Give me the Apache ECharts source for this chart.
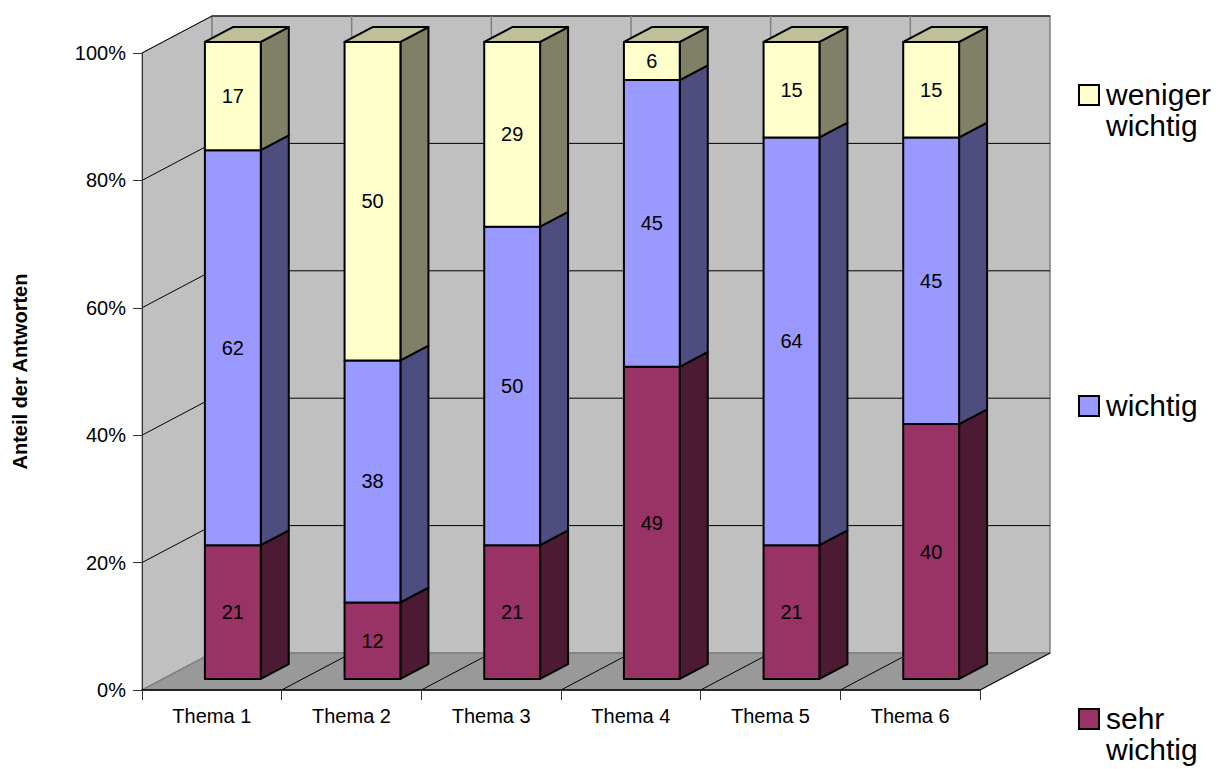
<!DOCTYPE html>
<html><head><meta charset="utf-8">
<script src="https://cdn.jsdelivr.net/npm/echarts@6/dist/echarts.min.js"></script>
<style>html,body{margin:0;padding:0;background:#fff}#c{width:1220px;height:769px}</style>
</head><body><div id="c"></div>
<script>
// ---- data ----
const categories = ['Thema 1', 'Thema 2', 'Thema 3', 'Thema 4', 'Thema 5', 'Thema 6'];
const sehrWichtig = [21, 12, 21, 49, 21, 40];
const wichtig = [62, 38, 50, 45, 64, 45];
const wenigerWichtig = [17, 50, 29, 6, 15, 15];
const seriesNames = ['sehr wichtig', 'wichtig', 'weniger wichtig'];
const yTicks = [0, 20, 40, 60, 80, 100];
const yAxisTitle = 'Anteil der Antworten';

// ---- style ----
const FONT = '"Liberation Sans", Arial, sans-serif';
const DX = 70, DY = -37;          // depth of the 3D box (px)
const BAR_W = 0.4, DEPTH0 = 0.3, DEPTH1 = 0.7;
const colors = [
  { front: '#993366', side: '#4d1a33', top: '#732650' },
  { front: '#9999ff', side: '#4d4d80', top: '#7373bf' },
  { front: '#ffffcc', side: '#808066', top: '#bfbf99' }
];
const stacks = [sehrWichtig, wichtig, wenigerWichtig];

function buildData(k) {
  return categories.map((c, i) => {
    let base = 0;
    for (let j = 0; j < k; j++) base += stacks[j][i];
    return [i, base, base + stacks[k][i]];
  });
}

function wallsRender(params, api) {
  const cs = params.coordSys;
  const x0 = cs.x, x1 = cs.x + cs.width;
  const yBot = api.coord([0, 0])[1], yTop = api.coord([0, 100])[1];
  const band = api.size([1, 0])[0];
  const ch = [];
  // side wall
  ch.push({ type: 'polygon', shape: { points: [[x0, yTop], [x0 + DX, yTop + DY], [x0 + DX, yBot + DY], [x0, yBot]] },
    style: { fill: '#c0c0c0', stroke: '#808080', lineWidth: 1 } });
  // back wall
  ch.push({ type: 'rect', shape: { x: x0 + DX, y: yTop + DY, width: x1 - x0, height: yBot - yTop },
    style: { fill: '#c0c0c0', stroke: '#808080', lineWidth: 1.5 } });
  // floor
  ch.push({ type: 'polygon', shape: { points: [[x0, yBot], [x1, yBot], [x1 + DX, yBot + DY], [x0 + DX, yBot + DY]] },
    style: { fill: '#999999', stroke: '#808080', lineWidth: 1.5 } });
  // floor right edge
  ch.push({ type: 'line', shape: { x1: x1, y1: yBot, x2: x1 + DX, y2: yBot + DY }, style: { stroke: '#000', lineWidth: 1 } });
  // horizontal gridlines
  yTicks.forEach(v => {
    if (v === 0) return;
    const y = api.coord([0, v])[1];
    ch.push({ type: 'polyline', shape: { points: [[x0, y], [x0 + DX, y + DY], [x1 + DX, y + DY]] },
      style: { stroke: '#000', lineWidth: 1, fill: null } });
  });
  // category dividers
  for (let i = 1; i < categories.length; i++) {
    const xb = x0 + band * i;
    ch.push({ type: 'line', shape: { x1: xb, y1: yBot, x2: xb + DX, y2: yBot + DY }, style: { stroke: '#000', lineWidth: 1 } });
    ch.push({ type: 'line', shape: { x1: xb + DX, y1: yBot + DY, x2: xb + DX, y2: yTop + DY }, style: { stroke: '#808080', lineWidth: 1.5 } });
  }
  return { type: 'group', children: ch };
}

function barRender(k) {
  return function (params, api) {
    const i = api.value(0), lo = api.value(1), hi = api.value(2);
    const pLo = api.coord([i, lo]), pHi = api.coord([i, hi]);
    const band = api.size([1, 0])[0];
    const w = band * BAR_W;
    const ox = DX * DEPTH0, oy = DY * DEPTH0;
    const bx = DX * (DEPTH1 - DEPTH0), by = DY * (DEPTH1 - DEPTH0);
    const xl = pLo[0] - w / 2 + ox, xr = pLo[0] + w / 2 + ox;
    const yt = pHi[1] + oy, yb = pLo[1] + oy;
    const c = colors[k];
    const st = { stroke: '#000', lineWidth: 2, lineJoin: 'round' };
    const ch = [
      { type: 'polygon', shape: { points: [[xr, yt], [xr + bx, yt + by], [xr + bx, yb + by], [xr, yb]] }, style: Object.assign({ fill: c.side }, st) },
      { type: 'rect', shape: { x: xl, y: yt, width: xr - xl, height: yb - yt }, style: Object.assign({ fill: c.front }, st) }
    ];
    if (k === stacks.length - 1) {
      ch.push({ type: 'polygon', shape: { points: [[xl, yt], [xl + bx, yt + by], [xr + bx, yt + by], [xr, yt]] }, style: Object.assign({ fill: c.top }, st) });
    }
    ch.push({ type: 'text', x: (xl + xr) / 2, y: (yt + yb) / 2,
      style: { text: String(hi - lo), font: '20px ' + FONT, fill: '#000', align: 'center', verticalAlign: 'middle' } });
    return { type: 'group', children: ch };
  };
}

// legend (graphic)
const legendTops = [[84, 79], [395, 390], [708, 703]]; // icon top, text top
const legendOrder = [2, 1, 0];
const legendGraphics = [];
legendOrder.forEach((k, idx) => {
  const [iy, ty] = legendTops[idx];
  legendGraphics.push({ type: 'rect', left: 1078, top: iy, shape: { width: 20, height: 20 },
    style: { fill: colors[k].front, stroke: '#000', lineWidth: 2 } });
  legendGraphics.push({ type: 'text', left: 1106, top: ty,
    style: { text: seriesNames[k].replace(' ', '\n'), font: '30px ' + FONT, fill: '#000', lineHeight: 31 } });
});

const chart = echarts.init(document.getElementById('c'), null, { renderer: 'svg' });
chart.setOption({
  backgroundColor: '#ffffff',
  animation: false,
  grid: { left: 142, right: 240, top: 53, bottom: 79, containLabel: false, outerBoundsMode: 'none' },
  xAxis: {
    type: 'category', data: categories, boundaryGap: true, z: 5,
    axisLine: { show: true, lineStyle: { color: '#000', width: 1.5 } },
    axisTick: { show: true, length: 10, interval: 0, lineStyle: { color: '#333' } },
    axisLabel: { fontSize: 20, fontFamily: FONT, color: '#000', margin: 16, interval: 0 },
    splitLine: { show: false }
  },
  yAxis: {
    type: 'value', min: 0, max: 100, interval: 20, z: 5,
    name: yAxisTitle, nameLocation: 'middle', nameRotate: 90, nameGap: 112,
    nameTextStyle: { fontSize: 20, fontWeight: 'bold', fontFamily: FONT, color: '#000' },
    axisLine: { show: true, lineStyle: { color: '#333', width: 1 } },
    axisTick: { show: true, length: 9, lineStyle: { color: '#333' } },
    axisLabel: { formatter: '{value}%', fontSize: 20, fontFamily: FONT, color: '#000', margin: 16 },
    splitLine: { show: false }
  },
  graphic: legendGraphics,
  series: [
    { type: 'custom', name: 'walls', z: 1, silent: true, clip: false, renderItem: wallsRender, data: [[0, 0, 0]] }
  ].concat(seriesNames.map((n, k) => ({
    type: 'custom', name: n, z: 2 + k, clip: false, renderItem: barRender(k),
    encode: { x: 0, y: [1, 2] }, data: buildData(k)
  })))
});
</script>
</body></html>
